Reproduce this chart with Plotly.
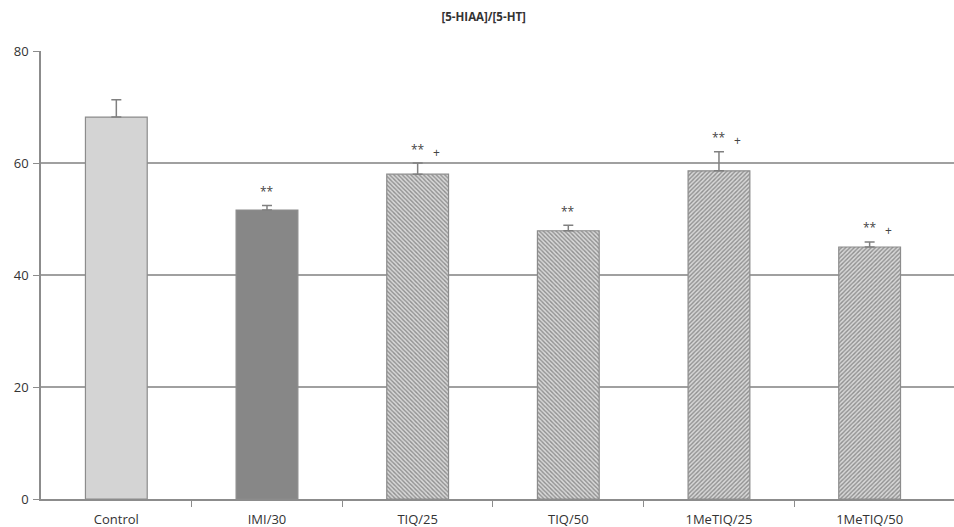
import plotly.graph_objects as go

# [5-HIAA]/[5-HT] ratio per treatment group (mean with upper SEM)
categories = ["Control", "IMI/30", "TIQ/25", "TIQ/50", "1MeTIQ/25", "1MeTIQ/50"]
means = [68.2, 51.6, 58.0, 47.9, 58.6, 45.0]
sem = [3.1, 0.8, 2.0, 1.0, 3.4, 0.9]
stars = ["", "**", "**", "**", "**", "**"]
plus = ["", "", "+", "", "+", "+"]

y_ticks = [0, 20, 40, 60, 80]

# bar styles: solid fill, or hatch shape on a light background
fills = ["#d4d4d4", "#878787", "#d8d8d8", "#d8d8d8", "#d8d8d8", "#d8d8d8"]
hatches = ["", "", "\\", "\\", "/", "/"]

xs = list(range(len(categories)))

fig = go.Figure()
for i, x in enumerate(xs):
    marker = dict(color=fills[i], line=dict(color="#8c8c8c", width=1.2))
    if hatches[i]:
        marker["pattern"] = dict(shape=hatches[i], fgcolor="#8f8f8f",
                                 bgcolor=fills[i], size=3, solidity=0.45,
                                 fillmode="replace")
    fig.add_trace(go.Bar(
        x=[x], y=[means[i]], width=0.41, marker=marker,
        error_y=dict(type="data", symmetric=False, array=[sem[i]],
                     arrayminus=[0], color="#808080", thickness=1.5, width=5),
        showlegend=False, hoverinfo="skip",
    ))

annotations = []
for x, m, s, st, pl in zip(xs, means, sem, stars, plus):
    top = m + s
    if st:
        annotations.append(dict(x=x, y=top, xref="x", yref="y", text=st,
                                showarrow=False, yshift=14,
                                font=dict(family="Open Sans", size=12, color="#444")))
    if pl:
        annotations.append(dict(x=x, y=top, xref="x", yref="y", text=pl,
                                showarrow=False, yshift=11, xshift=19,
                                font=dict(family="Open Sans", size=12, color="#444")))

fig.update_layout(
    width=954, height=527,
    margin=dict(l=41, r=0, t=51, b=28),
    plot_bgcolor="white",
    paper_bgcolor="white",
    barmode="overlay",
    title=dict(text="<b>[5-HIAA]/[5-HT]</b>", x=0.507, xanchor="center",
               y=0.968, yanchor="middle",
               font=dict(family="Open Sans", size=11.5, color="#333")),
    annotations=annotations,
)
fig.update_xaxes(
    range=[-0.5, 5.56],
    tickmode="array", tickvals=xs, ticktext=categories,
    ticks="", showgrid=False, zeroline=False,
    showline=True, linecolor="#8c8c8c", linewidth=1.5,
    ticklabelstandoff=8,
    tickfont=dict(family="Open Sans", size=13, color="#333"),
    minor=dict(tickmode="array", tickvals=[0.5, 1.5, 2.5, 3.5, 4.5],
               ticks="outside", ticklen=6, tickcolor="#8c8c8c", tickwidth=1.2,
               showgrid=False),
)
fig.update_yaxes(
    range=[0, 80], tickvals=y_ticks,
    ticks="outside", ticklen=6, tickcolor="#8c8c8c", tickwidth=1.2,
    showgrid=True, gridcolor="#a0a0a0", gridwidth=1.5,
    zeroline=False, showline=True, linecolor="#8c8c8c", linewidth=1.5,
    ticklabelstandoff=2,
    tickfont=dict(family="Open Sans", size=13, color="#333"),
)

fig.write_html("out.html")
